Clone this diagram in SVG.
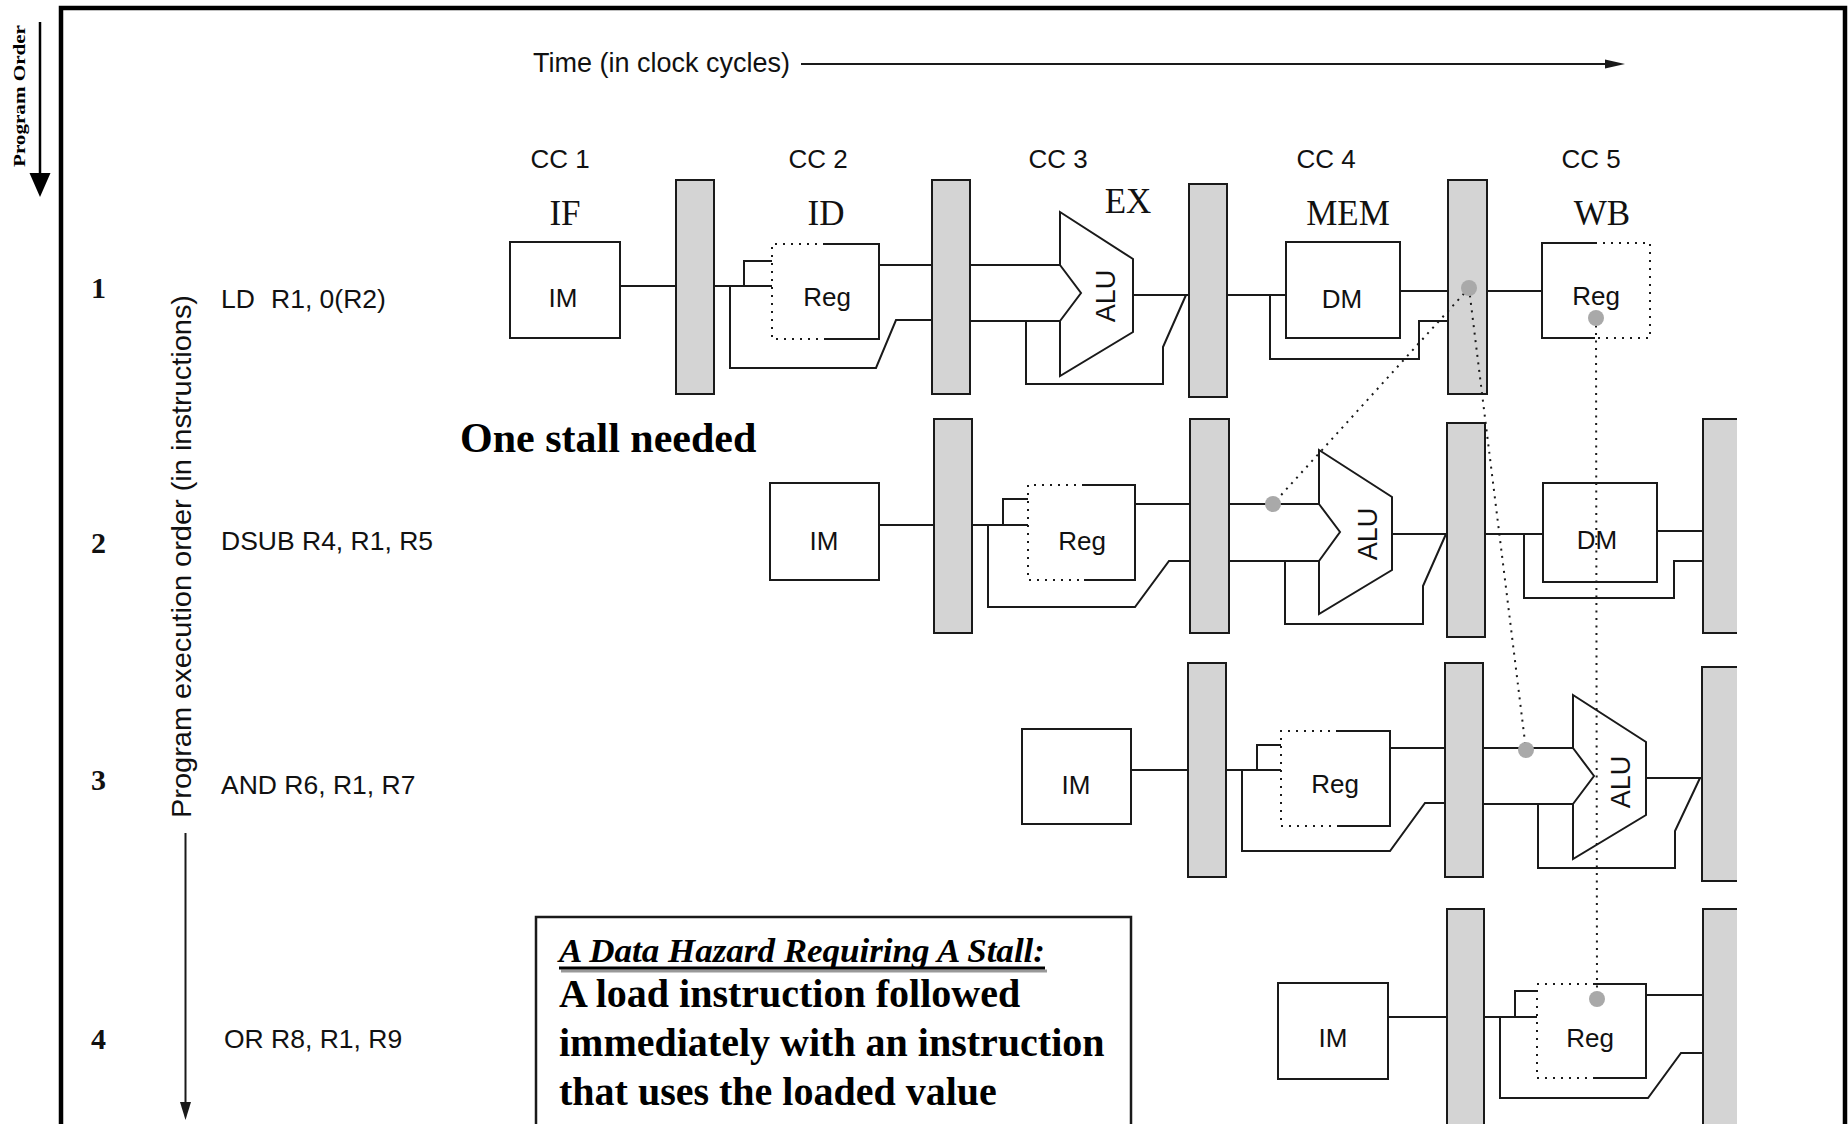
<svg xmlns="http://www.w3.org/2000/svg" width="1848" height="1124" viewBox="0 0 1848 1124">
<style>
.w{fill:none;stroke:#1a1a1a;stroke-width:2}
.box{fill:#fff;stroke:#1a1a1a;stroke-width:2}
.pr{fill:#d4d4d4;stroke:#1a1a1a;stroke-width:2}
.de{fill:none;stroke:#1a1a1a;stroke-width:2;stroke-dasharray:2 6}
.haz{fill:none;stroke:#1a1a1a;stroke-width:2;stroke-dasharray:2 5.5}
.gd{fill:#a9a9a9}
.s{font-family:"Liberation Sans",Arial,sans-serif;fill:#111}
.lb{font-family:"Liberation Sans",Arial,sans-serif;font-size:26px;fill:#111;text-anchor:middle}
.alu{font-family:"Liberation Sans",Arial,sans-serif;font-size:27px;fill:#111;text-anchor:middle}
.st{font-family:"Liberation Serif","Times New Roman",serif;font-size:35px;fill:#111;text-anchor:middle}
.num{font-family:"Liberation Serif","Times New Roman",serif;font-size:30px;font-weight:bold;fill:#111}
.ins{font-family:"Liberation Sans",Arial,sans-serif;font-size:26.5px;fill:#111}
.bt{font-family:"Liberation Serif","Times New Roman",serif;font-weight:bold;fill:#000}
</style>

<!-- frame -->
<path d="M61,1130 V8 H1845 V1130" fill="none" stroke="#000" stroke-width="4.5"/>

<!-- axis labels -->
<g id="program-order">
<text class="bt" font-size="17" textLength="142" lengthAdjust="spacingAndGlyphs" text-anchor="middle" transform="translate(25,96) rotate(-90)">Program Order</text>
<line x1="40" y1="22" x2="40" y2="178" stroke="#000" stroke-width="2.5"/>
<polygon points="29.5,173 50.5,173 40,197" fill="#000"/>
</g>
<g id="time-axis">
<text class="s" x="533" y="72" font-size="27">Time (in clock cycles)</text>
<line x1="801" y1="64" x2="1608" y2="64" stroke="#1a1a1a" stroke-width="2"/>
<polygon points="1605,59.5 1625,64 1605,68.5" fill="#1a1a1a"/>
</g>
<g id="exec-order">
<text class="s" font-size="28" textLength="523" lengthAdjust="spacingAndGlyphs" text-anchor="middle" transform="translate(191,556.5) rotate(-90)">Program execution order (in instructions)</text>
<line x1="185.5" y1="833" x2="185.5" y2="1106" stroke="#1a1a1a" stroke-width="2"/>
<polygon points="180,1102 191,1102 185.5,1120" fill="#1a1a1a"/>
</g>

<!-- cycle and stage labels -->
<g id="cycles">
<text class="lb" x="560" y="168">CC 1</text>
<text class="lb" x="818" y="168">CC 2</text>
<text class="lb" x="1058" y="168">CC 3</text>
<text class="lb" x="1326" y="168">CC 4</text>
<text class="lb" x="1591" y="168">CC 5</text>
</g>
<g id="stages">
<text class="st" x="565" y="225">IF</text>
<text class="st" x="826" y="225">ID</text>
<text class="st" x="1128" y="213">EX</text>
<text class="st" x="1348" y="225">MEM</text>
<text class="st" x="1602" y="225">WB</text>
</g>

<!-- instruction labels -->
<g id="instructions">
<text class="num" x="91" y="298">1</text>
<text class="ins" x="221" y="308">LD</text>
<text class="ins" x="271" y="308">R1, 0(R2)</text>
<text class="num" x="91" y="553">2</text>
<text class="ins" x="221" y="550">DSUB R4, R1, R5</text>
<text class="num" x="91" y="790">3</text>
<text class="ins" x="221" y="794">AND R6, R1, R7</text>
<text class="num" x="91" y="1049">4</text>
<text class="ins" x="224" y="1048">OR R8, R1, R9</text>
</g>

<text id="stall-note" class="bt" x="460" y="452" font-size="42">One stall needed</text>

<!-- connectors -->
<g id="connectors" class="w">
<!-- row 1 -->
<path d="M620,286 H676"/>
<path d="M714,286 H772"/>
<path d="M744,286 V261 H772"/>
<path d="M730,286 V368 H876 L896,320 H932"/>
<path d="M879,265 H932"/>
<path d="M970,265 H1060"/>
<path d="M970,321 H1060"/>
<path d="M1026,321 V384 H1163 V347 L1186,295"/>
<path d="M1133,295 H1189"/>
<path d="M1227,295 H1286"/>
<path d="M1270,295 V359 H1419 V321 H1448"/>
<path d="M1400,291 H1448"/>
<path d="M1487,291 H1542"/>
<!-- row 2 -->
<path d="M879,525 H934"/>
<path d="M972,525 H1028"/>
<path d="M1003,525 V499 H1028"/>
<path d="M988,525 V607 H1135 L1169,561 H1190"/>
<path d="M1135,504 H1190"/>
<path d="M1229,504 H1319"/>
<path d="M1229,561 H1319"/>
<path d="M1285,561 V624 H1423 V586 L1446,534"/>
<path d="M1392,534 H1447"/>
<path d="M1485,534 H1543"/>
<path d="M1524,534 V598 H1674 V561 H1703"/>
<path d="M1657,531 H1703"/>
<!-- row 3 -->
<path d="M1131,770 H1188"/>
<path d="M1226,770 H1281"/>
<path d="M1257,770 V745 H1281"/>
<path d="M1242,770 V851 H1390 L1425,803 H1445"/>
<path d="M1390,748 H1445"/>
<path d="M1483,748 H1573"/>
<path d="M1483,804 H1573"/>
<path d="M1538,804 V868 H1675 V831 L1700,778"/>
<path d="M1646,778 H1702"/>
<!-- row 4 -->
<path d="M1388,1017 H1447"/>
<path d="M1484,1017 H1537"/>
<path d="M1515,1017 V991 H1537"/>
<path d="M1500,1017 V1098 H1648 L1681,1053 H1703"/>
<path d="M1646,995 H1703"/>
</g>

<!-- pipeline registers -->
<g id="pipeline-registers" class="pr">
<rect x="676" y="180" width="38" height="214"/>
<rect x="932" y="180" width="38" height="214"/>
<rect x="1189" y="184" width="38" height="213"/>
<rect x="1448" y="180" width="39" height="214"/>
<rect x="934" y="419" width="38" height="214"/>
<rect x="1190" y="419" width="39" height="214"/>
<rect x="1447" y="423" width="38" height="214"/>
<path d="M1737,419 H1703 V633 H1737"/>
<rect x="1188" y="663" width="38" height="214"/>
<rect x="1445" y="663" width="38" height="214"/>
<path d="M1737,667 H1702 V881 H1737"/>
<rect x="1447" y="909" width="37" height="230"/>
<path d="M1737,909 H1703 V1135 H1737"/>
</g>

<!-- row 1 -->
<g id="r1-im"><rect class="box" x="510" y="242" width="110" height="96"/><text class="lb" x="563" y="307">IM</text></g>
<g id="r1-reg"><path class="de" d="M825,244 H772 V339 H825"/><path class="w" d="M825,244 H879 V339 H825"/><text class="lb" x="827" y="306">Reg</text></g>
<g id="r1-alu"><polygon class="box" points="1060,212 1133,259 1133,332 1060,376 1060,321 1081,293 1060,265"/><text class="alu" transform="translate(1115,296) rotate(-90)">ALU</text></g>
<g id="r1-dm"><rect class="box" x="1286" y="242" width="114" height="96"/><text class="lb" x="1342" y="308">DM</text></g>
<g id="r1-wbreg"><path class="w" d="M1595,243 H1542 V338 H1595"/><path class="de" d="M1595,243 H1650 V338 H1595"/><text class="lb" x="1596" y="305">Reg</text></g>

<!-- row 2 -->
<g id="r2-im"><rect class="box" x="770" y="483" width="109" height="97"/><text class="lb" x="824" y="550">IM</text></g>
<g id="r2-reg"><path class="de" d="M1084,485 H1028 V580 H1084"/><path class="w" d="M1084,485 H1135 V580 H1084"/><text class="lb" x="1082" y="550">Reg</text></g>
<g id="r2-alu"><polygon class="box" points="1319,450 1392,497 1392,570 1319,614 1319,561 1340,532 1319,504"/><text class="alu" transform="translate(1377,534) rotate(-90)">ALU</text></g>
<g id="r2-dm"><rect class="box" x="1543" y="483" width="114" height="99"/><text class="lb" x="1597" y="549">DM</text></g>

<!-- row 3 -->
<g id="r3-im"><rect class="box" x="1022" y="729" width="109" height="95"/><text class="lb" x="1076" y="794">IM</text></g>
<g id="r3-reg"><path class="de" d="M1338,731 H1281 V826 H1338"/><path class="w" d="M1338,731 H1390 V826 H1338"/><text class="lb" x="1335" y="793">Reg</text></g>
<g id="r3-alu"><polygon class="box" points="1573,695 1646,742 1646,815 1573,859 1573,804 1594,776 1573,748"/><text class="alu" transform="translate(1630,782) rotate(-90)">ALU</text></g>

<!-- row 4 -->
<g id="r4-im"><rect class="box" x="1278" y="983" width="110" height="96"/><text class="lb" x="1333" y="1047">IM</text></g>
<g id="r4-reg"><path class="de" d="M1595,984 H1537 V1078 H1595"/><path class="w" d="M1595,984 H1646 V1078 H1595"/><text class="lb" x="1590" y="1047">Reg</text></g>

<!-- hazard / forwarding paths -->
<g id="hazards">
<path class="haz" d="M1469,288 L1273,504"/>
<path class="haz" d="M1469,288 L1526,750"/>
<path class="haz" d="M1596,318 L1597,999"/>
<circle class="gd" cx="1469" cy="288" r="8"/>
<circle class="gd" cx="1596" cy="318" r="8"/>
<circle class="gd" cx="1273" cy="504" r="8"/>
<circle class="gd" cx="1526" cy="750" r="8"/>
<circle class="gd" cx="1597" cy="999" r="8"/>
</g>

<!-- annotation box -->
<g id="annotation">
<rect x="536" y="917" width="595" height="230" fill="#fff" stroke="#1a1a1a" stroke-width="2.5"/>
<line x1="561" y1="971" x2="1047" y2="971" stroke="#999" stroke-width="3"/>
<line x1="559" y1="968" x2="1045" y2="968" stroke="#000" stroke-width="3"/>
<text class="bt" x="559" y="962" font-size="34" font-style="italic" textLength="486" lengthAdjust="spacingAndGlyphs">A Data Hazard Requiring A Stall:</text>
<text class="bt" x="559" y="1007" font-size="40">A load instruction followed</text>
<text class="bt" x="559" y="1056" font-size="40">immediately with an instruction</text>
<text class="bt" x="559" y="1105" font-size="40">that uses the loaded value</text>
</g>
</svg>
